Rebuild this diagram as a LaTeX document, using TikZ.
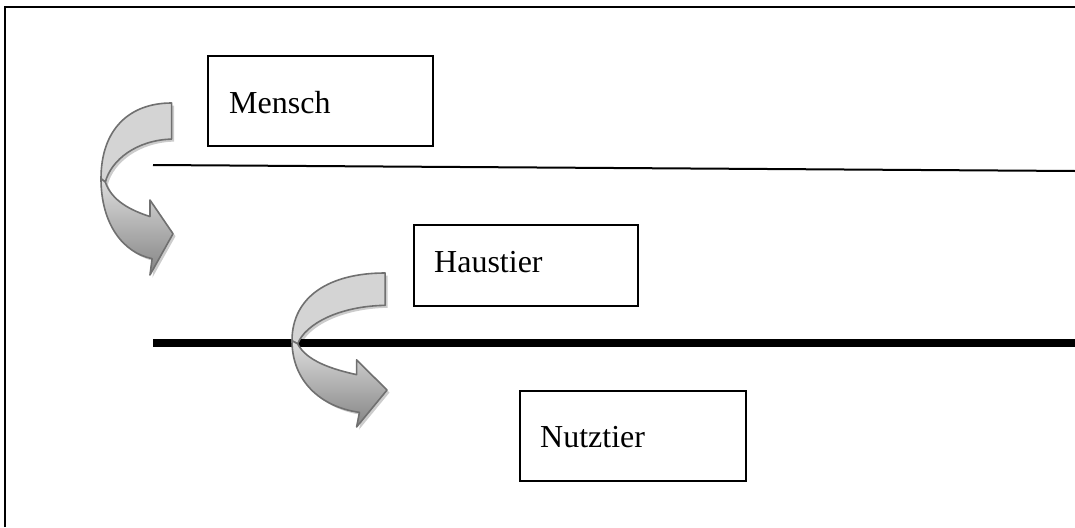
\documentclass[tikz,border=0pt]{standalone}
\usepackage{fontspec}
\setmainfont{Liberation Serif}
\usetikzlibrary{positioning}
\definecolor{arrline}{RGB}{112,112,112}
\definecolor{bandlight}{RGB}{212,212,212}
\definecolor{bandtop}{RGB}{222,222,222}
\definecolor{bandbot}{RGB}{132,132,132}
\tikzset{
  box/.style={draw, line width=2pt, rectangle, inner sep=0pt, anchor=north west},
  lbl/.style={inner sep=0pt, anchor=base west, font=\fontsize{32}{38}\selectfont},
  bandA/.style={draw=arrline, line width=1.6pt, fill=bandlight, line join=round},
  bandB/.style={draw=arrline, line width=1.6pt, top color=bandtop, bottom color=bandbot, line join=round},
  shadowband/.style={fill=black, opacity=0.2},
}
\newcommand\myupperband{(0.98,0) .. controls (0.4,0) and (0,0.15) .. (0,0.44) -- (0.06,0.46) .. controls (0.14,0.33) and (0.5,0.215) .. (0.98,0.21) -- cycle}
\newcommand\mylowerband{(0,0.44) .. controls (0,0.70) and (0.3,0.87) .. (0.71,0.905) -- (0.68,1) -- (1,0.76) -- (0.68,0.564) -- (0.68,0.66) .. controls (0.42,0.625) and (0.15,0.57) .. (0.06,0.46) -- cycle}
\newcommand\mycurvedarrow[4]{%
  \begin{scope}[shift={(#1+2.5,#2+2.5)}, x=#3pt, y=-#4pt]
    \path[shadowband] \myupperband;
    \path[shadowband] \mylowerband;
  \end{scope}
  \begin{scope}[shift={(#1,#2)}, x=#3pt, y=-#4pt]
    \path[bandA] \myupperband;
    \path[bandB] \mylowerband;
  \end{scope}}
\begin{document}
\begin{tikzpicture}[x=1pt, y=-1pt]
  \useasboundingbox (0,0) rectangle (1075,527);
  % outer frame
  \coordinate (fbl) at (5,527);
  \coordinate (ftl) at (5,7);
  \coordinate (ftr) at (1075,7);
  \draw[line width=2pt] (fbl) -- (ftl) -- (ftr);
  % separator lines
  \coordinate (thinA) at (153,165);
  \coordinate (thinB) at (1075,171);
  \draw[line width=2pt] (thinA) -- (thinB);
  \coordinate (thickA) at (153,343);
  \coordinate (thickB) at (1075,343);
  \draw[line width=8pt] (thickA) -- (thickB);
  % boxes
  \node[box, minimum width=225pt, minimum height=90pt] (mensch) at (207,55) {};
  \node[lbl] (menschlbl) at (229,113) {Mensch};
  \node[box, minimum width=224pt, minimum height=81pt] (haustier) at (413,224) {};
  \node[lbl] (haustierlbl) at (434,272) {Haustier};
  \node[box, minimum width=226pt, minimum height=90pt] (nutztier) at (519,390) {};
  \node[lbl] (nutztierlbl) at (540,447) {Nutztier};
  % curved arrows
  \mycurvedarrow{101}{103}{72}{172}
  \mycurvedarrow{292}{273}{95}{154}
\end{tikzpicture}
\end{document}
